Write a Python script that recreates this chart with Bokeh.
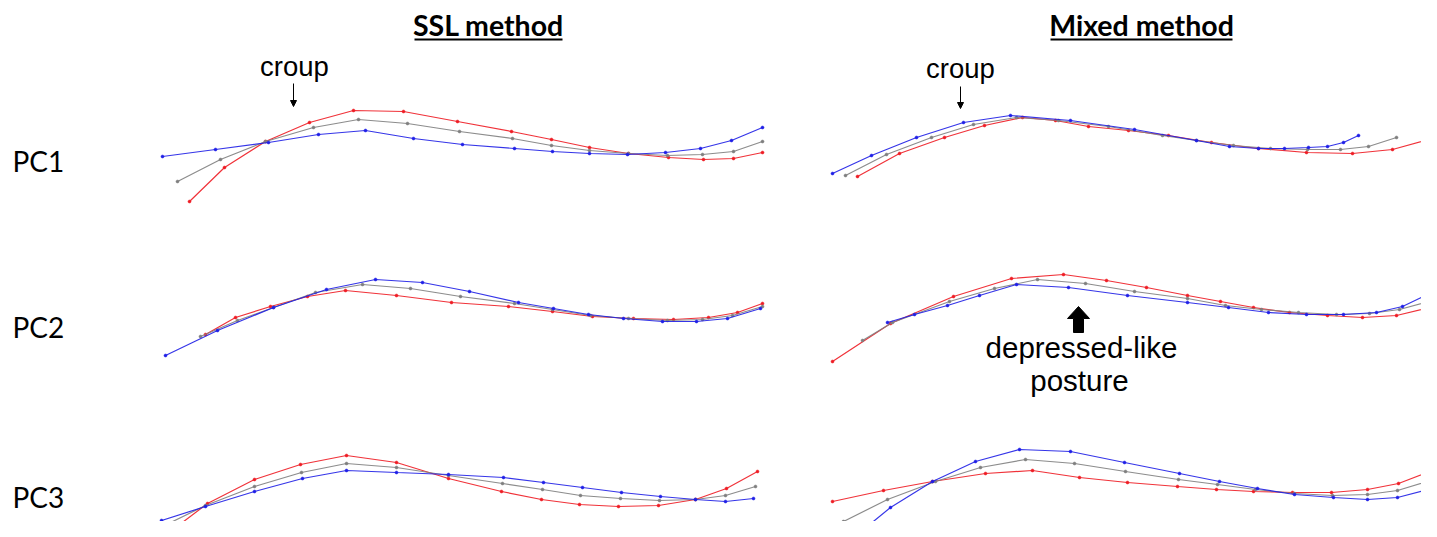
from bokeh.plotting import figure
from bokeh.models import Range1d, Label, Arrow, NormalHead
from bokeh.embed import file_html
from bokeh.resources import INLINE

# ---------------- data (shape outlines; page-pixel units) -------------
ssl_pc1_red_x = [189, 224, 265, 309, 353, 403, 457, 511, 551, 589, 628, 668, 703, 733, 762]
ssl_pc1_red_y = [201, 167, 141, 122, 110, 111, 121, 131, 139, 147, 153, 157, 159, 158, 152]
ssl_pc1_gray_x = [177, 220, 265, 313, 358, 407, 459, 512, 551, 589, 628, 667, 702, 733, 762]
ssl_pc1_gray_y = [181, 159, 141, 127, 119, 123, 131, 138, 145, 150, 153, 155, 154, 151, 141]
ssl_pc1_blue_x = [162, 215, 268, 318, 365, 413, 462, 514, 552, 589, 627, 665, 700, 731, 762]
ssl_pc1_blue_y = [156, 149, 142, 134, 130, 138, 144, 148, 151, 153, 154, 152, 148, 140, 127]

mix_pc1_red_x = [857, 899, 944, 984, 1022, 1055, 1088, 1128, 1168, 1211, 1258, 1306, 1352, 1392, 1432]
mix_pc1_red_y = [176, 153, 137, 125, 117, 120, 126, 130, 135, 142, 148, 152, 153, 149, 138]
mix_pc1_gray_x = [845, 886, 931, 973, 1016, 1058, 1108, 1162, 1196, 1233, 1270, 1307, 1340, 1368, 1396]
mix_pc1_gray_y = [175, 154, 137, 124, 117, 120, 126, 135, 140, 145, 148, 149, 149, 146, 137]
mix_pc1_blue_x = [832, 871, 916, 963, 1010, 1070, 1134, 1196, 1229, 1258, 1284, 1308, 1327, 1343, 1358]
mix_pc1_blue_y = [173, 155, 137, 122, 115, 120, 129, 140, 146, 148, 148, 147, 146, 142, 135]

ssl_pc2_red_x = [205, 235, 270, 307, 345, 396, 451, 508, 552, 592, 633, 673, 708, 737, 762]
ssl_pc2_red_y = [334, 317, 306, 296, 290, 295, 302, 306, 311, 316, 318, 319, 317, 312, 303]
ssl_pc2_gray_x = [200, 237, 273, 315, 362, 410, 460, 514, 552, 590, 628, 667, 702, 732, 762]
ssl_pc2_gray_y = [336, 320, 307, 292, 284, 288, 296, 303, 309, 315, 318, 320, 319, 315, 306]
ssl_pc2_blue_x = [165, 217, 273, 326, 375, 422, 469, 518, 553, 588, 623, 662, 696, 727, 760]
ssl_pc2_blue_y = [355, 330, 307, 289, 279, 282, 291, 302, 308, 314, 318, 321, 321, 318, 308]

mix_pc2_red_x = [832, 890, 953, 1011, 1063, 1106, 1146, 1187, 1220, 1253, 1289, 1327, 1362, 1396, 1433]
mix_pc2_red_y = [361, 323, 296, 278, 274, 280, 287, 295, 301, 307, 312, 315, 317, 315, 306]
mix_pc2_gray_x = [862, 892, 949, 994, 1037, 1085, 1134, 1187, 1225, 1261, 1298, 1336, 1369, 1399, 1428]
mix_pc2_gray_y = [340, 322, 301, 288, 279, 283, 291, 298, 305, 309, 312, 314, 313, 309, 301]
mix_pc2_blue_x = [887, 914, 947, 979, 1016, 1068, 1127, 1187, 1228, 1268, 1306, 1343, 1376, 1402, 1423]
mix_pc2_blue_y = [322, 314, 305, 295, 284, 287, 295, 302, 307, 312, 314, 314, 312, 306, 296]

ssl_pc3_red_x = [166, 207, 254, 300, 346, 396, 448, 501, 541, 579, 618, 658, 695, 726, 757]
ssl_pc3_red_y = [534, 503, 479, 464, 455, 462, 478, 491, 499, 504, 506, 505, 499, 488, 471]
ssl_pc3_gray_x = [162, 205, 254, 301, 346, 396, 448, 502, 542, 580, 620, 659, 695, 725, 755]
ssl_pc3_gray_y = [526, 505, 486, 472, 463, 467, 475, 483, 489, 495, 498, 500, 499, 495, 486]
ssl_pc3_blue_x = [161, 205, 254, 302, 346, 396, 448, 503, 543, 582, 621, 660, 695, 725, 753]
ssl_pc3_blue_y = [520, 506, 491, 478, 470, 472, 474, 477, 482, 487, 492, 496, 499, 501, 498]

mix_pc3_red_x = [832, 883, 932, 985, 1032, 1079, 1127, 1177, 1216, 1253, 1292, 1331, 1367, 1398, 1429]
mix_pc3_red_y = [501, 490, 481, 473, 470, 477, 482, 486, 489, 491, 492, 492, 489, 483, 471]
mix_pc3_gray_x = [843, 887, 935, 980, 1025, 1074, 1125, 1178, 1217, 1255, 1294, 1332, 1367, 1397, 1427]
mix_pc3_gray_y = [521, 499, 481, 467, 459, 463, 471, 479, 484, 489, 493, 495, 494, 490, 481]
mix_pc3_blue_x = [852, 890, 932, 975, 1019, 1070, 1124, 1179, 1219, 1257, 1294, 1333, 1367, 1397, 1424]
mix_pc3_blue_y = [538, 507, 481, 461, 449, 451, 462, 473, 481, 488, 494, 497, 499, 497, 490]

column_titles = ["SSL method", "Mixed method"]
row_labels = ["PC1", "PC2", "PC3"]

RED = "#ee1c24"
GRAY = "#7f7f7f"
BLUE = "#1f1fe6"

series = [
    (ssl_pc1_red_x, ssl_pc1_red_y, RED), (ssl_pc1_gray_x, ssl_pc1_gray_y, GRAY), (ssl_pc1_blue_x, ssl_pc1_blue_y, BLUE),
    (mix_pc1_red_x, mix_pc1_red_y, RED), (mix_pc1_gray_x, mix_pc1_gray_y, GRAY), (mix_pc1_blue_x, mix_pc1_blue_y, BLUE),
    (ssl_pc2_red_x, ssl_pc2_red_y, RED), (ssl_pc2_gray_x, ssl_pc2_gray_y, GRAY), (ssl_pc2_blue_x, ssl_pc2_blue_y, BLUE),
    (mix_pc2_red_x, mix_pc2_red_y, RED), (mix_pc2_gray_x, mix_pc2_gray_y, GRAY), (mix_pc2_blue_x, mix_pc2_blue_y, BLUE),
    (ssl_pc3_red_x, ssl_pc3_red_y, RED), (ssl_pc3_gray_x, ssl_pc3_gray_y, GRAY), (ssl_pc3_blue_x, ssl_pc3_blue_y, BLUE),
    (mix_pc3_red_x, mix_pc3_red_y, RED), (mix_pc3_gray_x, mix_pc3_gray_y, GRAY), (mix_pc3_blue_x, mix_pc3_blue_y, BLUE),
]

# ---------------- figure ----------------
p = figure(width=1421, height=521, x_range=Range1d(0, 1421), y_range=Range1d(521, 0),
           output_backend="svg", toolbar_location=None, min_border=0)
p.axis.visible = False
p.grid.visible = False
p.outline_line_color = None
p.background_fill_color = "white"
p.border_fill_color = "white"

for xs, ys, c in series:
    p.line(xs, ys, line_color=c, line_width=1.2, line_alpha=0.9)
    p.scatter(xs, ys, size=3, fill_color=c, line_color=c, line_width=0.5)

# column titles (bold, underlined)
title_x = [488, 1141]
for t, tx in zip(column_titles, title_x):
    p.add_layout(Label(x=tx, y=24, text=t, text_align="center", text_baseline="middle",
                       text_font="Lato", text_font_style="bold", text_font_size="28.5px",
                       text_color="black"))
p.segment(x0=[414, 1050], y0=[39, 39], x1=[562, 1232], y1=[39, 39], line_color="black", line_width=2)

# row labels
row_y = [160, 326, 496]
for t, ry in zip(row_labels, row_y):
    p.add_layout(Label(x=12, y=ry, text=t, text_align="left", text_baseline="middle",
                       text_font="Lato", text_font_size="28px", text_color="black"))

# croup annotations
for cx, cy in [(294, 66), (960, 68)]:
    p.add_layout(Label(x=cx, y=cy, text="croup", text_align="center",
                       text_baseline="middle", text_font="Liberation Sans",
                       text_font_size="27.5px", text_color="black"))
p.add_layout(Arrow(x_start=293, y_start=83, x_end=293, y_end=106, line_width=1,
                   end=NormalHead(size=6, fill_color="black", line_color="black")))
p.add_layout(Arrow(x_start=960, y_start=86, x_end=960, y_end=108, line_width=1,
                   end=NormalHead(size=6, fill_color="black", line_color="black")))

# depressed-like posture annotation
p.patch([1073, 1083, 1083, 1089, 1078, 1067, 1073],
        [332, 332, 318, 318, 306, 318, 318], fill_color="black", line_color="black")
p.add_layout(Label(x=1081, y=347, text="depressed-like", text_align="center",
                   text_baseline="middle", text_font="Liberation Sans",
                   text_font_size="29.5px", text_color="black"))
p.add_layout(Label(x=1079, y=380, text="posture", text_align="center",
                   text_baseline="middle", text_font="Liberation Sans",
                   text_font_size="29.5px", text_color="black"))

open("out.html", "w").write(file_html(p, INLINE))
